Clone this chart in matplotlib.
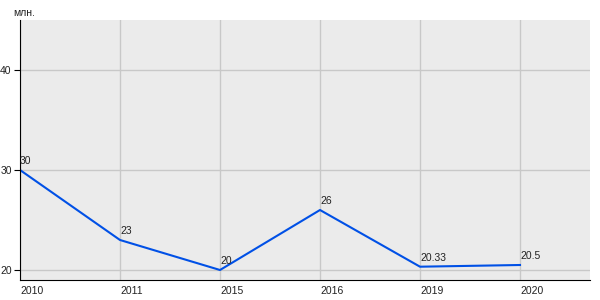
import matplotlib
matplotlib.use('Agg')
import matplotlib.pyplot as plt

years = ['2010', '2011', '2015', '2016', '2019', '2020']
values = [30, 23, 20, 26, 20.33, 20.5]
value_labels = ['30', '23', '20', '26', '20.33', '20.5']
y_ticks = [20, 30, 40]

plt.rcParams['font.family'] = ['Liberation Sans', 'DejaVu Sans']

fig = plt.figure(figsize=(6, 3), dpi=100)
ax = fig.add_axes([20 / 600, 20 / 300, 570 / 600, 260 / 300])
ax.set_facecolor('#ebebeb')

x = list(range(len(years)))
ax.plot(x, values, color='#0050e6', linewidth=1.5)

for xi, v, lab in zip(x, values, value_labels):
    ax.annotate(lab, (xi, v), xytext=(0, 3), textcoords='offset points',
                ha='left', va='bottom', fontsize=7.5, color='#222222')

ax.set_xlim(0, 5.7)
ax.set_ylim(19, 45)
ax.set_xticks(x)
ax.set_xticklabels(years, ha='left')
ax.set_yticks(y_ticks)
ax.grid(True, color='#c8c8c8', linewidth=1)
ax.set_axisbelow(True)

ax.spines['top'].set_visible(False)
ax.spines['right'].set_visible(False)
ax.spines['left'].set_color('black')
ax.spines['bottom'].set_color('black')
ax.tick_params(axis='x', length=0, labelsize=7.5, pad=4, colors='#222222')
ax.tick_params(axis='y', length=4, labelsize=7.5, pad=2, colors='#222222')
ax.tick_params(axis='both', color='black')

fig.text(13 / 600, 1 - 13 / 300, 'млн.', fontsize=7.5, color='#222222',
         ha='left', va='center')

fig.savefig('out.png', dpi=100)
